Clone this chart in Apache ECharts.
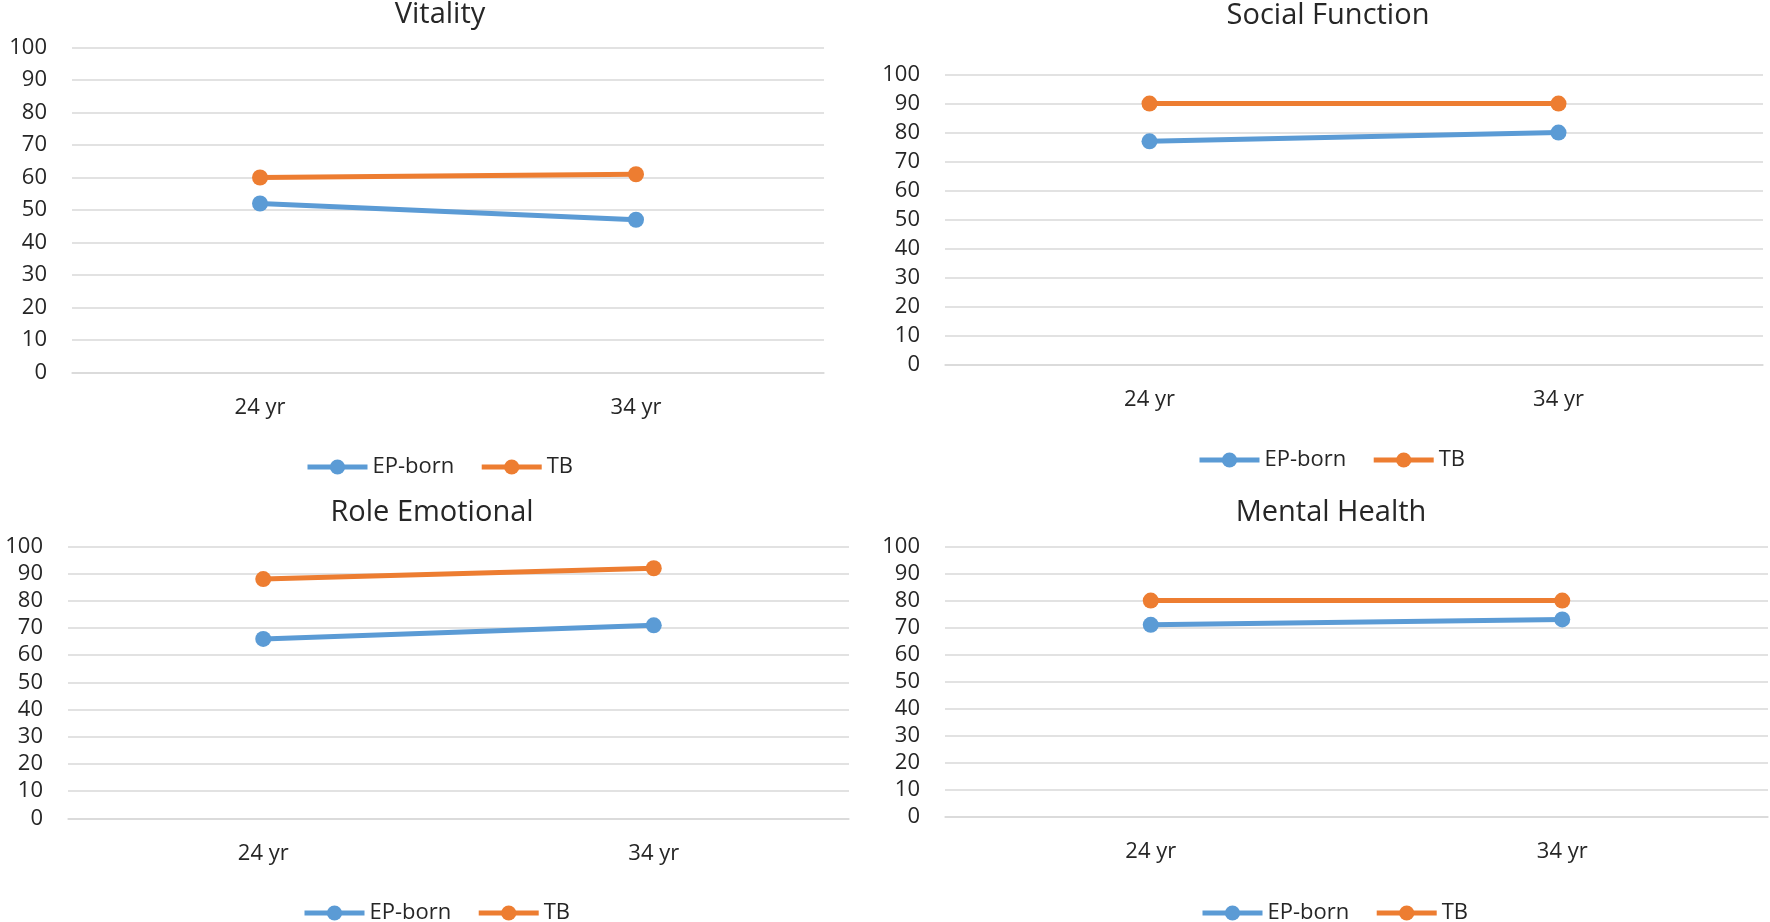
<!DOCTYPE html>
<html>
<head>
<meta charset="utf-8">
<script src="https://cdn.jsdelivr.net/npm/echarts@6/dist/echarts.min.js"></script>
<style>
html,body{margin:0;padding:0;background:#fff;}
#chart{width:1770px;height:922px;}
</style>
</head>
<body>
<div id="chart"></div>
<script>
const categories = ['24 yr', '34 yr'];
const seriesNames = ['EP-born', 'TB'];
const panelTitles = ['Vitality', 'Social Function', 'Role Emotional', 'Mental Health'];
const vitalityEP = [52, 47];
const vitalityTB = [60, 61];
const socialEP = [77, 80];
const socialTB = [90, 90];
const roleEP = [66, 71];
const roleTB = [88, 92];
const mentalEP = [71, 73];
const mentalTB = [80, 80];
const yMin = 0, yMax = 100, yStep = 10;

const panelData = [
  [vitalityEP, vitalityTB],
  [socialEP, socialTB],
  [roleEP, roleTB],
  [mentalEP, mentalTB]
];

const FONT = "'Open Sans', 'Noto Sans', sans-serif";
const TEXT = '#262626';
const GRIDC = '#d9d9d9';
const COLORS = ['#5B9BD5', '#ED7D31'];

// layout per panel (pixels)
const grids = [
  {left: 72, right: 946, top: 47.5, bottom: 549.5},
  {left: 945, right: 7, top: 74.5, bottom: 557},
  {left: 68, right: 921, top: 546.5, bottom: 103.7},
  {left: 945, right: 2, top: 546.5, bottom: 105.3}
];
const titlePos = [
  {x: 440, y: 0},
  {x: 1328, y: 1},
  {x: 432, y: 498},
  {x: 1331, y: 498}
];
const legendPos = [
  {x: 305, y: 456},
  {x: 1197, y: 449},
  {x: 302, y: 902},
  {x: 1200, y: 902}
];

const option = {
  backgroundColor: '#ffffff',
  animation: false,
  color: COLORS,
  textStyle: {fontFamily: FONT},
  title: panelTitles.map((t, i) => ({
    text: t,
    left: titlePos[i].x,
    top: titlePos[i].y,
    textAlign: 'center',
    padding: 0,
    textStyle: {fontFamily: FONT, fontSize: 29, fontWeight: 'normal', color: TEXT}
  })),
  legend: legendPos.map((p, i) => ({
    data: seriesNames,
    left: p.x,
    top: p.y,
    orient: 'horizontal',
    itemWidth: 60,
    itemHeight: 19,
    itemGap: 25,
    padding: 0,
    selectedMode: false,
    lineStyle: {width: 5},
    textStyle: {fontFamily: FONT, fontSize: 22, color: TEXT}
  })),
  grid: grids.map(g => Object.assign({containLabel: false}, g)),
  xAxis: grids.map((g, i) => ({
    type: 'category',
    gridIndex: i,
    data: categories,
    boundaryGap: true,
    axisLine: {show: true, lineStyle: {color: GRIDC, width: 1.5}},
    axisTick: {show: false},
    axisLabel: {fontFamily: FONT, fontSize: 22, color: TEXT, margin: 24},
    splitLine: {show: false}
  })),
  yAxis: grids.map((g, i) => ({
    type: 'value',
    gridIndex: i,
    min: yMin,
    max: yMax,
    interval: yStep,
    axisLine: {show: false},
    axisTick: {show: false},
    axisLabel: {fontFamily: FONT, fontSize: 22, color: TEXT, margin: 25},
    splitLine: {show: true, lineStyle: {color: GRIDC, width: 1.5}}
  })),
  series: []
};

panelData.forEach((pair, i) => {
  pair.forEach((vals, k) => {
    option.series.push({
      type: 'line',
      name: seriesNames[k],
      xAxisIndex: i,
      yAxisIndex: i,
      data: vals,
      symbol: 'circle',
      symbolSize: 16,
      color: COLORS[k],
      itemStyle: {color: COLORS[k]},
      lineStyle: {color: COLORS[k], width: 5}
    });
  });
});

const chart = echarts.init(document.getElementById('chart'), null, {renderer: 'canvas'});
chart.setOption(option);
</script>
</body>
</html>
